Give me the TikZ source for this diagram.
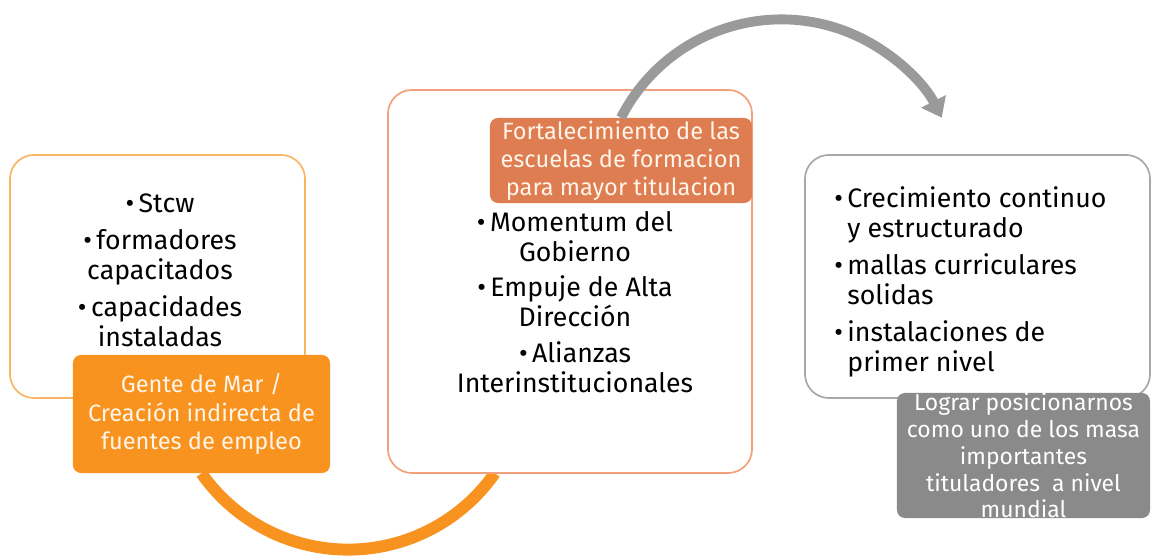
\documentclass[tikz,border=0pt]{standalone}
\usepackage{fontspec}
\setmainfont{Fira Sans}
\usetikzlibrary{arrows.meta,backgrounds}
\definecolor{naranja}{HTML}{F7931E}
\definecolor{borde1}{HTML}{F8B565}
\definecolor{salmon}{HTML}{DE7D52}
\definecolor{borde2}{HTML}{F2A07B}
\definecolor{grislbl}{HTML}{8A8A8A}
\definecolor{borde3}{HTML}{A8A8A8}
\definecolor{grisarco}{HTML}{9A9A9A}
\definecolor{crema}{HTML}{FFF4E8}
\newcommand{\bul}{\textbullet\,}
\begin{document}
\begin{tikzpicture}[x=0.025cm,y=0.025cm,
  caja/.style={draw,line width=1.2pt,rounded corners=0.6cm,fill=white},
  rotulo/.style={rounded corners=0.2cm,text=crema,align=center,inner sep=0pt,
    font=\fontsize{16.8}{20}\selectfont},
  texto/.style={inner sep=0pt,font=\fontsize{19}{21.3}\selectfont}]
\useasboundingbox (0,0) rectangle (1152,557);
%\draw[help lines,step=50] (0,0) grid (1152,557);

% cajas
\node[caja,draw=borde1,minimum width=7.375cm,minimum height=6.075cm] (caja1) at (157.5,280.5) {};
\node[caja,draw=borde2,minimum width=9.1cm,minimum height=9.575cm] (caja2) at (570,275.5) {};
\node[caja,draw=borde3,minimum width=8.625cm,minimum height=6.075cm] (caja3) at (977.5,280.5) {};

% textos
\node[texto,align=center] (txt1) at (160,287) {\bul Stcw\\[5pt]\bul formadores\\capacitados\\[5pt]\bul capacidades\\instaladas};
\node[texto,align=center] (txt2) at (575,255) {\bul Momentum del\\Gobierno\\[4pt]\bul Empuje de Alta\\Dirección\\[4pt]\bul Alianzas\\Interinstitucionales};
\node[texto,align=left,anchor=west] (txt3) at (834,275) {\bul Crecimiento continuo\\\hphantom{\bul}y estructurado\\[5pt]\bul mallas curriculares\\\hphantom{\bul}solidas\\[5pt]\bul instalaciones de\\\hphantom{\bul}primer nivel};

% rotulos
\node[rotulo,fill=naranja,minimum width=6.425cm,minimum height=2.95cm] (lbl1) at (201.5,143) {Gente de Mar /\\Creación indirecta de\\fuentes de empleo};
\node[rotulo,fill=salmon,minimum width=6.55cm,minimum height=2.125cm] (lbl2) at (621,396.5) {Fortalecimiento de las\\escuelas de formacion\\para mayor titulacion};
\node[rotulo,fill=grislbl,minimum width=6.325cm,minimum height=3.125cm] (lbl3) at (1023.5,101.5) {};
\node[rotulo,text=white,font=\fontsize{16.3}{19}\selectfont] (txt4) at (lbl3.center) {Lograr posicionarnos\\como uno de los masa\\importantes\\tituladores\ \ a nivel\\mundial};

% arcos
\begin{pgfonlayer}{background}
\draw[naranja,line width=8.5pt] (lbl1.south) arc[start angle=215,end angle=325,radius=179];
\end{pgfonlayer}
\draw[grisarco,line width=7pt,-{Triangle[width=19pt,length=13pt]}] (lbl2.north) arc[start angle=153,end angle=27,radius=180];
\end{tikzpicture}
\end{document}
